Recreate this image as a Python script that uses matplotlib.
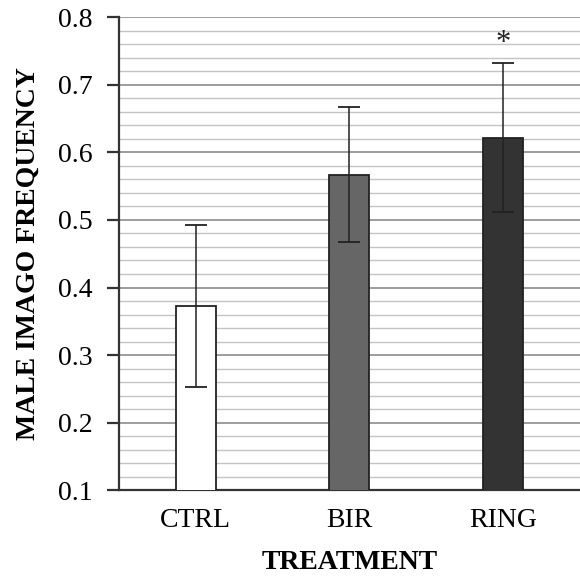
import numpy as np
import matplotlib.pyplot as plt
from matplotlib.ticker import MultipleLocator

plt.rcParams['font.family'] = ['Liberation Serif', 'DejaVu Serif']

categories = ["CTRL", "BIR", "RING"]
values = [0.373, 0.567, 0.622]
errors = [0.12, 0.10, 0.11]
colors = ["#ffffff", "#666666", "#333333"]
star_y = 0.762

fig, ax = plt.subplots(figsize=(5.8, 5.78), dpi=100)
fig.subplots_adjust(left=0.205, right=1.0, bottom=0.152, top=0.97)

x = np.arange(len(categories))
ax.bar(x, values, width=0.26, color=colors, edgecolor="#222222", linewidth=1.3,
       bottom=0, zorder=3)
ax.errorbar(x, values, yerr=errors, fmt='none', ecolor="#222222", elinewidth=1.1,
            capsize=8, capthick=1.3, zorder=4)
ax.text(x[2], star_y, "*", ha='center', va='center', fontsize=22, color="#222222")

ax.set_ylim(0.1, 0.8)
ax.set_xlim(-0.5, 2.5)
ax.yaxis.set_major_locator(MultipleLocator(0.1))
ax.yaxis.set_minor_locator(MultipleLocator(0.02))
ax.grid(which='major', axis='y', color="#8c8c8c", linewidth=1.2, zorder=0)
ax.grid(which='minor', axis='y', color="#c4c4c4", linewidth=1.0, zorder=0)
ax.set_axisbelow(True)

ax.spines['top'].set_visible(False)
ax.spines['right'].set_visible(False)
for s in ['left', 'bottom']:
    ax.spines[s].set_color("#333333")
    ax.spines[s].set_linewidth(1.6)

ax.set_xticks(x)
ax.set_xticklabels(categories)
ax.tick_params(axis='x', length=0, labelsize=20, pad=13)
ax.tick_params(axis='y', which='major', length=9, width=1.6, color="#333333",
               labelsize=20, pad=10)
ax.tick_params(axis='y', which='minor', length=0)
ax.yaxis.set_major_formatter(plt.FuncFormatter(lambda v, p: f"{v:.1f}"))

ax.set_xlabel("TREATMENT", fontsize=20, fontweight='bold', labelpad=12)
ax.set_ylabel("MALE IMAGO FREQUENCY", fontsize=20, fontweight='bold', labelpad=12)

fig.savefig("out.png")
